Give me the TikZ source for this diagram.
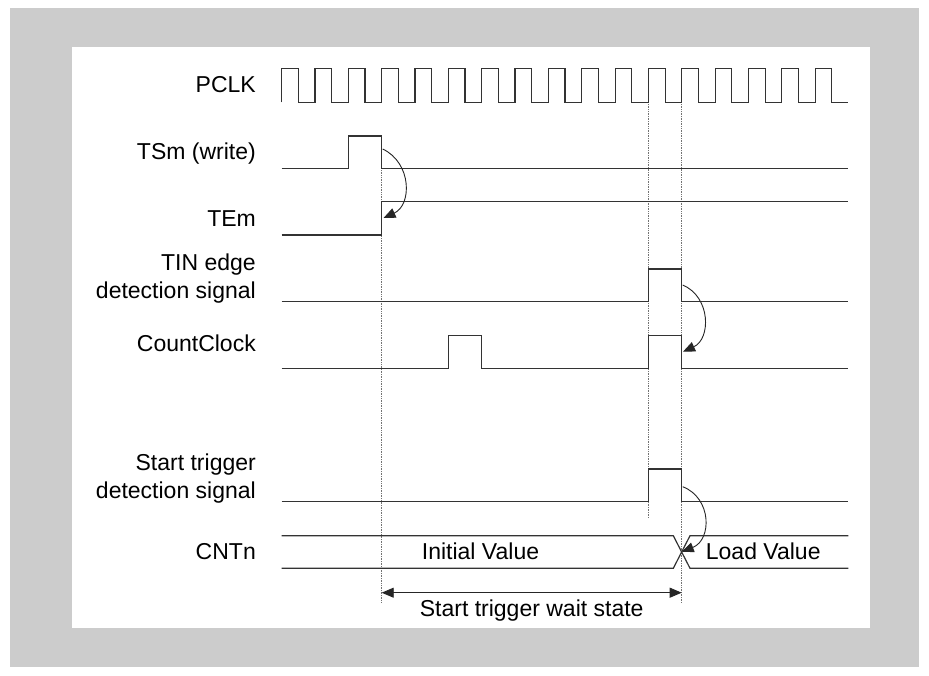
\documentclass[tikz,border=0pt]{standalone}
\usepackage{fontspec}
\setmainfont{Liberation Sans}
\usetikzlibrary{arrows.meta, calc}

\begin{document}
\begin{tikzpicture}[
    x=1pt, y=-1pt,
    >={Triangle[length=12pt, width=10pt]},
    signal/.style={line width=1.2pt, black!80, line join=miter},
    guide/.style={densely dotted, line width=0.7pt, black!55},
    cause/.style={->, line width=0.9pt, black!85},
    siglabel/.style={anchor=base east, inner sep=0pt, align=right, font=\fontsize{23}{28.3}\selectfont},
    busvalue/.style={anchor=base west, inner sep=0pt, font=\fontsize{23}{28}\selectfont}
]
\useasboundingbox (0,0) rectangle (929,675);

% -------------------------
% FRAME
% -------------------------
\fill[black!20] (10,8) rectangle (919,667);
\fill[white] (71.7,46.7) rectangle (870,628);

% -------------------------
% LABELS (base = last line)
% -------------------------
\node[siglabel] (pclk) at (256,92.3) {PCLK};
\node[siglabel] (tsm) at (256,159.5) {TSm (write)};
\node[siglabel] (tem) at (256,226) {TEm};
\node[siglabel] (tin) at (256,298.5) {TIN edge\\detection signal};
\node[siglabel] (cclk) at (256,351.7) {CountClock};
\node[siglabel] (strig) at (256,498.5) {Start trigger\\detection signal};
\node[siglabel] (cntn) at (256,559) {CNTn};

% -------------------------
% GUIDES
% -------------------------
\draw[guide] (381.7,168.3) -- (381.7,602.3);
\draw[guide] (648.3,102.3) -- (648.3,518.3);
\draw[guide] (681.7,102.3) -- (681.7,602.3);

% -------------------------
% WAVES
% -------------------------
% clock, 17 periods
\draw[signal] (281.7,102.3)
  \foreach \k in {0,...,16}{ -- ++(0,-34) -- ++(16.67,0) -- ++(0,34) -- ++(16.67,0) };

\draw[signal] (281.7,168.3) -- (348.3,168.3) -- (348.3,136) -- (381.7,136)
  -- (381.7,168.3) -- (848.3,168.3);
\draw[signal] (281.7,235) -- (381.7,235) -- (381.7,201.7) -- (848.3,201.7);
\draw[signal] (281.7,301.7) -- (648.3,301.7) -- (648.3,269) -- (681.7,269)
  -- (681.7,301.7) -- (848.3,301.7);
\draw[signal] (281.7,368.3) -- (448.3,368.3) -- (448.3,335.7) -- (481.7,335.7)
  -- (481.7,368.3) -- (648.3,368.3) -- (648.3,335.7) -- (681.7,335.7)
  -- (681.7,368.3) -- (848.3,368.3);
\draw[signal] (281.7,501.7) -- (648.3,501.7) -- (648.3,469) -- (681.7,469)
  -- (681.7,501.7) -- (848.3,501.7);

% bus with change at the load
\draw[signal] (281.7,535.7) -- (673.3,535.7) -- (690,568.3) -- (848.3,568.3);
\draw[signal] (281.7,568.3) -- (673.3,568.3) -- (690,535.7) -- (848.3,535.7);
\node[busvalue] (initv) at (421.7,559) {Initial Value};
\node[busvalue] (loadv) at (705.7,559) {Load Value};

% -------------------------
% CAUSE ARROWS
% -------------------------
\coordinate (tsmfall) at (382.7,149);
\coordinate (temrise) at (383.5,218);
\coordinate (tinfall) at (682.7,285);
\coordinate (cclkfall) at (683,351.7);
\coordinate (strigfall) at (682.7,486.7);
\coordinate (cross) at (681.7,551.7);

\draw[cause] (tsmfall) .. controls (412,163) and (412,205) .. (temrise);
\draw[cause] (tinfall) .. controls (711,297) and (711,339) .. (cclkfall);
\draw[cause] (strigfall) .. controls (712,498) and (712,540) .. (cross);

% -------------------------
% WAIT STATE
% -------------------------
\coordinate (waitl) at (381.7,592.7);
\coordinate (waitr) at (681.7,592.7);
\draw[<->, line width=0.9pt, black!85] (waitl) -- (waitr);
\node[anchor=base, inner sep=0pt, font=\fontsize{23}{28}\selectfont] (waitlbl) at (531.7,616.7) {Start trigger wait state};

\end{tikzpicture}
\end{document}
